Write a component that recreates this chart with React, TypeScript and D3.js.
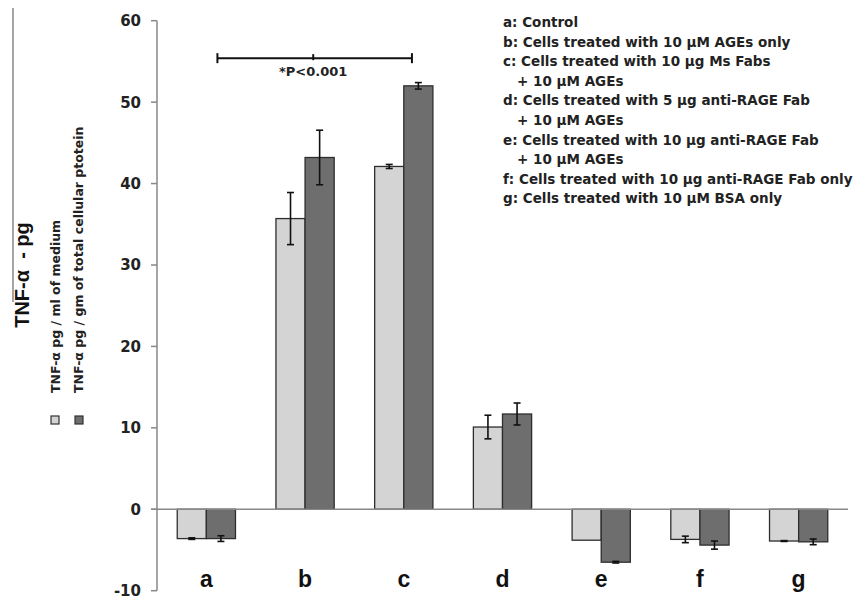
import React from "react";
import * as d3 from "d3";

// groups on the x axis
const categories = ["a", "b", "c", "d", "e", "f", "g"];
// TNF-α pg / ml of medium
const mediumValues = [-3.6, 35.7, 42.1, 10.1, -3.8, -3.7, -3.9];
const mediumErrors = [0.1, 3.2, 0.25, 1.45, 0, 0.4, 0.05];
// TNF-α pg / gm of total cellular protein
const proteinValues = [-3.6, 43.2, 52.0, 11.7, -6.5, -4.4, -4.0];
const proteinErrors = [0.35, 3.35, 0.4, 1.35, 0.1, 0.5, 0.35];
const yTicks = [-10, 0, 10, 20, 30, 40, 50, 60];
const seriesNames = ["TNF-α pg / ml of medium", "TNF-α pg / gm of total cellular ptotein"];
const legendLines = [
  "a: Control",
  "b: Cells treated with 10 µM AGEs only",
  "c: Cells treated with 10 µg Ms Fabs",
  "   + 10 µM AGEs",
  "d: Cells treated with 5 µg anti-RAGE Fab",
  "   + 10 µM AGEs",
  "e: Cells treated with 10 µg anti-RAGE Fab",
  "   + 10 µM AGEs",
  "f: Cells treated with 10 µg anti-RAGE Fab only",
  "g: Cells treated with 10 µM BSA only",
];
const sigLabel = "*P<0.001";

const width = 853,
  height = 599;
const font = "'Liberation Sans', Arial, sans-serif";
const wide = "'DejaVu Sans', sans-serif";
const colors = ["#d4d4d4", "#6e6e6e"];

export default function App() {
  const x = d3
    .scaleBand()
    .domain(categories)
    .range([157, 848])
    .paddingInner(0.41)
    .paddingOuter(0.205);
  const inner = d3.scaleBand().domain(["0", "1"]).range([0, x.bandwidth()]);
  const y = d3.scaleLinear().domain([-10, 60]).range([590.7, 20.7]);

  const series = [
    { values: mediumValues, errors: mediumErrors },
    { values: proteinValues, errors: proteinErrors },
  ];

  const bx1 = x("a")! + x.bandwidth() * 0.69;
  const bx2 = x("c")! + x.bandwidth() * 0.64;
  const bxm = x("b")! + x.bandwidth() * 0.64;
  const by = y(55.4);

  return (
    <svg
      width={width}
      height={height}
      style={{ position: "absolute", left: 0, top: 0, background: "#fff" }}
      fontFamily={font}
      fontWeight="bold"
    >
      {/* frame line at left */}
      <line x1={13} x2={13} y1={8} y2={302} stroke="#888" strokeWidth={1.5} />

      {/* y axis */}
      <line x1={157} x2={157} y1={y(60)} y2={y(-10)} stroke="#888" strokeWidth={1.5} />
      {yTicks.map((t) => (
        <g key={t}>
          <line x1={151} x2={157} y1={y(t)} y2={y(t)} stroke="#888" strokeWidth={1.5} />
          <text x={141} y={y(t)} dy="0.36em" textAnchor="end" fontSize={15} fontFamily={wide} fill="#222">
            {t}
          </text>
        </g>
      ))}

      {/* bars */}
      {series.map((s, si) =>
        categories.map((c, i) => {
          const v = s.values[i];
          const bx = x(c)! + inner(String(si))!;
          const bw = inner.bandwidth();
          const top = Math.min(y(v), y(0));
          const h = Math.abs(y(v) - y(0));
          const cx = bx + bw / 2;
          const e = s.errors[i];
          return (
            <g key={`${si}-${c}`}>
              <rect x={bx} y={top} width={bw} height={h} fill={colors[si]} stroke="#2e2e2e" strokeWidth={1.3} />
              {e > 0 && (
                <g stroke="#111" strokeWidth={1.6}>
                  <line x1={cx} x2={cx} y1={y(v + e)} y2={y(v - e)} />
                  <line x1={cx - 3.5} x2={cx + 3.5} y1={y(v + e)} y2={y(v + e)} />
                  <line x1={cx - 3.5} x2={cx + 3.5} y1={y(v - e)} y2={y(v - e)} />
                </g>
              )}
            </g>
          );
        })
      )}

      {/* zero line */}
      <line x1={151} x2={848} y1={y(0)} y2={y(0)} stroke="#888" strokeWidth={1.5} />

      {/* category labels */}
      {categories.map((c) => (
        <text key={c} x={x(c)! + x.bandwidth() / 2} y={587} textAnchor="middle" fontSize={23} fill="#111">
          {c}
        </text>
      ))}

      {/* significance bracket */}
      <g stroke="#111" strokeWidth={2}>
        <line x1={bx1} x2={bx2} y1={by} y2={by} />
        <line x1={bx1} x2={bx1} y1={by - 5} y2={by + 5} />
        <line x1={bx2} x2={bx2} y1={by - 5} y2={by + 5} />
        <line x1={bxm} x2={bxm} y1={by - 4} y2={by + 2} />
      </g>
      <text x={bxm} y={by + 18} textAnchor="middle" fontSize={13} fontFamily={wide} fill="#222">
        {sigLabel}
      </text>

      {/* y title */}
      <text transform="translate(29,275) rotate(-90)" textAnchor="middle" fontSize={20} fill="#111" style={{ whiteSpace: "pre" }}>
        {"TNF-α  - pg"}
      </text>

      {/* rotated legend */}
      {seriesNames.map((n, i) => (
        <g key={n}>
          <rect x={51 + i * 24} y={416} width={8} height={8} fill={colors[i]} stroke="#333" strokeWidth={1.2} />
          <text transform={`translate(${60 + i * 23},393) rotate(-90)`} fontSize={12.5} fontFamily={wide} fill="#222">
            {n}
          </text>
        </g>
      ))}

      {/* category description */}
      {legendLines.map((l, i) => (
        <text key={i} x={503} y={27 + i * 19.6} fontSize={13.5} fontFamily={wide} fill="#222" style={{ whiteSpace: "pre" }}>
          {l}
        </text>
      ))}
    </svg>
  );
}
